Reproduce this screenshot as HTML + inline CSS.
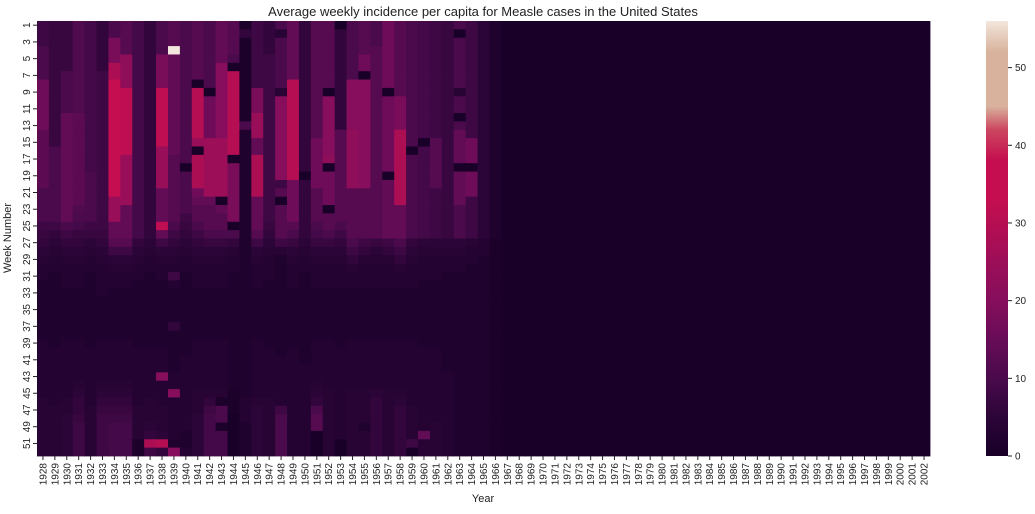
<!DOCTYPE html>
<html><head><meta charset="utf-8">
<style>
body{margin:0;background:#fff;}
svg{display:block;font-family:"Liberation Sans","DejaVu Sans",sans-serif;}
</style></head>
<body>
<svg id="chart" width="1035" height="514" viewBox="0 0 1035 514" xmlns="http://www.w3.org/2000/svg">
<text x="483" y="16" text-anchor="middle" font-size="13" fill="#222">Average weekly incidence per capita for Measle cases in the United States</text>
<g id="cells"></g>
<g id="yaxis"></g>
<g id="xaxis"></g>
<text transform="translate(11,238) rotate(-90)" text-anchor="middle" font-size="11" fill="#222">Week Number</text>
<text x="483" y="502" text-anchor="middle" font-size="11" fill="#222">Year</text>
<g id="cbar"></g>
</svg>
<script>
const years = [];
for (let y = 1928; y <= 2002; y++) years.push(y);
const weeks = [];
for (let w = 1; w <= 52; w++) weeks.push(w);
const colorbarTicks = [0, 10, 20, 30, 40, 50];
const colorMax = 56;
const Z = [0,0,0,0,0,0,0,0,0,0,0,0,0,0,0,0,0,0,0,0,0,0,0,0,0,0,0,0,0,0,0,0,0,0,0,0,0,0,0,0,0,0,0,0,0,0,0,0,0,0,0,0];
const values = [
[8,8,8,10,10,10,10,16,16,16,16,16,16,13,13,13,13,13,13,13,10,10,10,10,8,7, 6,5,4,3,3,2,2,2,2,2,2,2,3,3,3,3,3,3,3,4,4,4,4,4,4,4],
[7,7,7,7,7,7,7,7,7,7,7,7,7,7,7,10,10,10,10,10,10,10,10,10,8,6, 5,4,3,3,2,2,2,2,2,2,2,2,2,3,3,3,3,3,3,3,4,4,4,4,4,4],
[7,7,7,7,7,7,10,10,10,10,10,14,14,14,14,14,14,14,14,14,14,14,14,14,10,8, 6,5,4,3,3,3,2,2,2,2,2,2,3,3,3,3,3,3,3,4,4,5,5,5,5,5],
[11,11,11,11,11,11,11,11,11,11,11,13,13,13,13,13,13,13,13,13,13,13,11,10,9,7, 6,5,4,3,3,3,2,2,2,2,2,2,3,3,3,3,3,4,5,6,6,7,8,8,8,8],
[9,9,9,9,9,9,9,9,9,9,9,9,9,9,9,9,9,9,10,10,10,10,10,10,8,7, 5,4,3,3,2,2,2,2,2,2,2,2,2,3,3,3,3,3,3,3,4,4,4,4,4,4],
[6,6,6,6,6,6,8,8,8,8,8,8,8,8,8,8,8,8,8,8,8,8,8,8,8,7, 6,5,4,3,3,3,3,2,2,2,2,2,3,3,3,3,3,4,5,6,7,8,8,8,8,8],
[10,10,18,18,18,28,28,34,34,34,34,34,34,34,34,34,34,34,34,34,34,24,24,24,14,14, 12,8,5,4,3,3,2,2,2,2,2,2,3,3,3,3,3,4,5,6,7,8,9,9,9,9],
[12,12,12,12,22,22,22,22,32,32,32,32,32,32,32,32,24,24,24,24,24,24,14,14,14,14, 12,8,5,4,3,3,2,2,2,2,2,2,3,3,3,3,3,4,5,6,7,8,9,9,9,9],
[9,9,9,9,9,9,9,9,9,9,9,9,9,9,9,9,9,9,9,9,9,9,9,9,9,9, 6,5,4,3,3,2,2,2,2,2,2,2,2,3,3,3,3,3,3,3,4,4,4,4,1,1],
[6,6,6,6,6,6,6,6,6,6,6,6,6,6,6,6,6,6,6,6,6,6,6,6,6,6, 5,4,3,3,2,2,2,2,2,2,2,2,2,3,3,3,3,3,3,4,4,4,5,6,28,8],
[10,10,10,10,18,18,18,18,32,32,32,32,32,32,32,24,24,24,24,24,14,14,14,14,32,14, 8,5,4,3,3,2,2,2,2,2,2,2,2,3,3,3,20,3,3,3,4,4,4,5,30,6],
[12,12,12,56,14,14,14,14,14,14,14,14,14,14,14,14,12,12,12,12,12,12,12,12,10,8, 6,5,4,3,8,3,2,2,2,2,6,2,2,2,2,2,3,3,20,3,3,3,3,3,2,20],
[10,10,10,10,10,10,10,10,10,10,10,10,10,10,10,10,10,0,10,10,10,10,10,8,7,6, 5,4,3,3,2,2,2,2,2,2,2,2,2,2,3,3,3,3,3,3,3,3,3,2,2,3],
[12,12,12,12,12,12,12,0,30,30,30,30,30,30,24,0,28,28,28,28,16,14,12,12,10,8, 6,5,4,3,3,3,2,2,2,2,2,2,3,3,3,3,3,3,4,4,4,5,5,5,5,5],
[10,10,10,10,10,10,10,10,0,16,16,16,16,16,25,25,25,25,25,25,25,14,12,12,12,10, 7,5,4,3,3,3,2,2,2,2,2,2,3,3,3,3,3,3,4,6,8,9,9,9,9,9],
[14,14,14,14,14,20,20,20,20,20,20,20,20,20,25,25,25,25,25,25,25,0,14,12,12,10, 7,5,4,3,3,3,2,2,2,2,2,2,3,3,3,3,3,3,4,1,10,10,1,9,9,9],
[12,12,12,12,10,0,30,30,30,30,30,30,30,30,30,30,0,18,18,18,18,18,18,18,0,10, 6,4,3,3,2,2,2,2,2,2,2,2,2,2,2,2,2,2,1,1,1,0,0,0,0,0],
[1,6,1,1,1,1,1,1,1,1,1,1,10,2,2,2,2,2,2,2,2,2,2,2,2,2, 2,2,2,2,2,2,2,2,2,2,2,2,2,2,2,2,2,2,2,3,3,3,2,2,2,2],
[8,8,8,8,8,8,8,8,18,18,18,24,24,24,14,14,28,28,28,28,28,14,14,14,14,12, 8,5,4,3,3,3,2,2,2,2,2,2,3,3,3,3,3,3,3,4,5,5,5,5,5,5],
[6,6,6,6,8,8,8,8,8,8,8,8,8,8,8,8,8,8,8,8,8,8,8,8,7,6, 5,4,3,3,3,2,2,2,2,2,2,2,2,3,3,3,3,3,3,4,4,4,4,4,4,4],
[10,4,10,10,10,10,10,10,4,20,20,20,20,20,20,20,20,20,20,8,12,0,12,12,12,12, 8,4,2,2,2,2,2,2,2,2,2,2,2,2,3,3,3,3,3,3,8,10,10,10,10,10],
[14,14,14,14,14,14,14,30,30,30,30,30,30,30,30,30,30,30,30,16,16,16,16,16,12,10, 7,5,4,3,3,3,2,2,2,2,2,2,2,3,3,3,3,3,3,3,3,3,3,3,3,3],
[6,6,6,6,6,6,6,6,6,6,6,6,6,6,6,6,6,6,0,6,6,6,6,6,6,6, 5,4,3,3,2,2,2,2,2,2,2,2,2,2,2,3,3,3,3,3,3,3,3,3,3,3],
[12,12,12,12,12,12,12,12,12,12,12,12,12,12,16,16,16,16,16,16,12,12,12,12,10,9, 7,5,4,3,3,3,2,2,2,2,2,2,3,3,3,3,3,4,5,6,10,12,12,0,0,0],
[12,12,12,12,12,12,12,12,0,20,20,20,20,20,20,20,22,0,16,16,16,16,0,12,12,10, 7,5,4,3,3,3,2,2,2,2,2,2,3,3,3,3,3,3,4,4,4,4,4,4,4,4],
[0,6,6,6,6,6,6,6,6,6,6,6,6,12,12,12,12,12,12,12,12,12,12,12,10,8, 6,5,4,3,3,3,2,2,2,2,2,2,2,3,3,3,3,3,3,3,3,3,3,3,0,0],
[10,10,10,10,10,10,10,20,20,20,20,20,20,22,22,22,22,22,22,22,12,12,12,12,12,12, 10,8,6,4,3,3,2,2,2,2,2,2,3,3,3,3,3,3,4,4,4,4,4,4,4,4],
[12,12,12,12,16,16,0,20,20,20,20,20,20,20,20,20,20,20,20,20,12,12,12,12,12,12, 8,6,4,3,3,3,2,2,2,2,2,2,3,3,3,3,3,3,4,4,4,4,2,4,4,4],
[10,10,10,12,12,12,12,12,12,12,12,12,12,12,12,12,12,12,12,12,12,12,12,12,12,12, 7,5,4,3,3,3,2,2,2,2,2,2,3,3,3,3,3,3,5,6,6,6,6,6,6,6],
[16,16,16,16,16,16,16,16,0,16,16,16,16,16,16,16,16,16,0,14,14,14,14,14,14,14, 8,6,4,3,3,3,2,2,2,2,2,2,3,3,3,3,3,3,4,4,4,4,4,4,4,4],
[12,12,12,12,12,12,12,12,12,18,18,18,18,28,28,28,28,28,28,28,28,28,14,14,14,14, 10,8,6,4,3,3,2,2,2,2,2,2,3,3,3,3,3,3,4,5,6,6,6,6,6,6],
[10,10,10,10,10,10,10,10,10,10,10,10,10,10,10,0,10,10,10,10,10,10,10,10,10,10, 6,5,4,3,3,3,2,2,2,2,2,2,3,3,3,3,3,3,3,3,4,4,4,4,8,0],
[9,9,9,9,9,9,9,9,9,9,9,9,9,9,0,9,9,9,9,9,9,9,9,9,9,9, 5,4,3,3,3,2,2,2,2,2,2,2,2,3,3,3,3,3,3,3,3,3,3,14,4,4],
[8,8,8,8,8,8,8,8,8,8,8,8,8,8,12,12,12,12,12,12,8,8,8,8,8,8, 5,4,3,3,3,2,2,2,2,2,2,2,2,3,3,3,3,3,3,3,3,3,4,4,4,4],
[7,7,7,7,7,7,7,7,7,7,7,7,7,7,7,7,7,7,7,7,7,7,7,7,7,7, 5,4,3,3,2,2,2,2,2,2,2,2,2,2,2,2,3,3,3,3,3,3,3,3,3,3],
[10,0,10,10,10,10,10,10,4,10,10,0,10,14,14,14,14,0,14,14,14,14,10,10,10,10, 5,4,3,3,2,2,2,2,2,2,2,2,2,2,2,2,2,2,2,2,2,2,2,2,2,2],
[8,8,8,8,8,8,8,8,8,8,8,8,8,8,16,16,16,0,16,16,16,8,8,8,8,8, 4,3,3,2,2,2,2,2,2,2,2,2,2,2,2,2,2,2,2,2,2,2,2,2,2,2],
[5,5,5,5,5,5,5,5,5,5,5,5,5,5,5,5,5,5,5,5,5,5,5,5,5,5, 3,3,2,2,2,2,2,2,2,2,2,2,2,2,2,2,2,2,2,2,2,2,2,2,2,2],
[2,2,2,2,2,2,2,2,2,2,2,2,2,2,2,2,2,2,2,2,2,2,2,2,2,2, 1,1,1,1,1,1,1,1,1,1,1,1,1,1,1,1,1,1,1,1,1,1,1,1,1,1],
Z,Z,Z,Z,Z,Z,Z,Z,Z,Z,Z,Z,Z,Z,Z,Z,Z,Z,Z,Z,Z,Z,Z,Z,Z,Z,Z,Z,Z,Z,Z,Z,Z,Z,Z,Z
];

const NS = "http://www.w3.org/2000/svg";
const PX0 = 37, PX1 = 930, PY0 = 21, PY1 = 456;
const colW = (PX1 - PX0) / years.length;
const rowH = (PY1 - PY0) / weeks.length;
function xScale(i){ return PX0 + i * colW; }
function yScale(i){ return PY0 + i * rowH; }
const stops = [[0,[24,0,40]],[5,[44,5,56]],[10,[74,10,76]],[15,[104,12,88]],[20,[134,14,92]],[25,[156,14,88]],[30,[182,14,82]],[33,[196,14,80]],[38,[196,14,80]],[42,[204,70,96]],[45,[216,178,156]],[52,[216,178,156]],[56,[243,230,220]]];
function color(v){
  v = Math.max(0, Math.min(colorMax, v));
  for (let k = 1; k < stops.length; k++){
    if (v <= stops[k][0]){
      const a = stops[k-1], b = stops[k];
      const t = (v - a[0]) / (b[0] - a[0]);
      const c = a[1].map((x, j) => Math.round(x + (b[1][j] - x) * t));
      return `rgb(${c[0]},${c[1]},${c[2]})`;
    }
  }
  return "rgb(243,230,220)";
}
function mk(tag, attrs){
  const e = document.createElementNS(NS, tag);
  for (const k in attrs) e.setAttribute(k, attrs[k]);
  return e;
}
const cells = document.getElementById("cells");
years.forEach((yr, i) => {
  const col = values[i] || Z;
  weeks.forEach((wk, j) => {
    const r = mk("rect", {x: xScale(i).toFixed(2), y: yScale(j).toFixed(2), width: (colW + 0.4).toFixed(2), height: (rowH + 0.4).toFixed(2), fill: color(col[j])});
    
    
    cells.appendChild(r);
  });
});
const yaxis = document.getElementById("yaxis");
weeks.forEach((wk, j) => {
  if (wk % 2 === 0) return;
  const cy = yScale(j) + rowH / 2;
  const t = mk("line", {x1: PX0 - 4, x2: PX0, y1: cy, y2: cy, stroke: "#222", "stroke-width": 1});
  
  
  yaxis.appendChild(t);
  const l = mk("text", {transform: `translate(${PX0 - 7},${cy}) rotate(-90)`, "text-anchor": "middle", "font-size": 10, fill: "#222"});
  
  
  l.textContent = wk;
  yaxis.appendChild(l);
});
const xaxis = document.getElementById("xaxis");
years.forEach((yr, i) => {
  const cx = xScale(i) + colW / 2;
  const t = mk("line", {x1: cx, x2: cx, y1: PY1, y2: PY1 + 4, stroke: "#222", "stroke-width": 1});
  
  
  xaxis.appendChild(t);
  const l = mk("text", {transform: `translate(${cx + 3.5},${PY1 + 7}) rotate(-90)`, "text-anchor": "end", "font-size": 10, fill: "#222"});
  
  
  l.textContent = yr;
  xaxis.appendChild(l);
});
const cbar = document.getElementById("cbar");
const CB0 = 986, CB1 = 1008, CBY1 = 456, cbScale = (CBY1 - PY0) / colorMax;
const defs = mk("defs", {});
const grad = mk("linearGradient", {id: "cbgrad", x1: 0, y1: 1, x2: 0, y2: 0});
stops.forEach(s => {
  const st = mk("stop", {offset: (s[0] / colorMax).toFixed(4), "stop-color": color(s[0])});
  grad.appendChild(st);
});
defs.appendChild(grad);
cbar.appendChild(defs);
const cb = mk("rect", {x: CB0, y: PY0, width: CB1 - CB0, height: CBY1 - PY0, fill: "url(#cbgrad)"});


cbar.appendChild(cb);
colorbarTicks.forEach(v => {
  const y = CBY1 - v * cbScale;
  const t = mk("line", {x1: CB1, x2: CB1 + 4, y1: y, y2: y, stroke: "#222", "stroke-width": 1});
  
  
  cbar.appendChild(t);
  const l = mk("text", {x: CB1 + 7, y: y + 3.5, "font-size": 10, fill: "#222"});
  
  
  l.textContent = v;
  cbar.appendChild(l);
});
</script>
</body></html>
